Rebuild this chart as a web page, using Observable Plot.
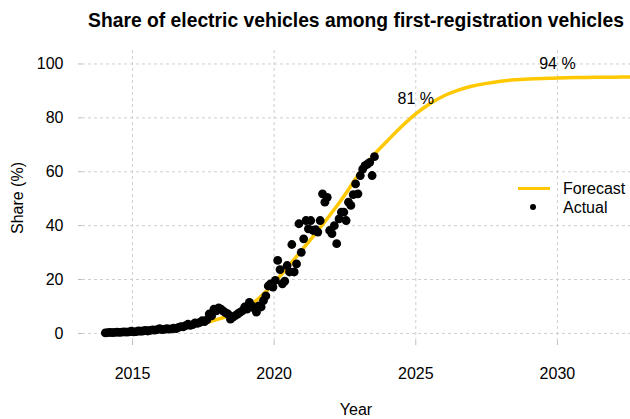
<!DOCTYPE html>
<html>
<head>
<meta charset="utf-8">
<script src="https://cdn.jsdelivr.net/npm/d3@7"></script>
<script src="https://cdn.jsdelivr.net/npm/@observablehq/plot@0.6"></script>
<style>
  body { margin: 0; background: #fff; font-family: "Liberation Sans", Arial, Helvetica, sans-serif; color: #000; }
  #wrap { position: relative; width: 630px; height: 419px; overflow: hidden; }
  #wrap svg { position: absolute; left: 0; top: 0; }
  .t { position: absolute; white-space: nowrap; }
  #title { left: 82px; width: 548px; top: 10px; text-align: center; font-weight: bold; font-size: 19.3px; line-height: 22px; }
  #xlab { left: 82px; width: 548px; top: 402px; text-align: center; font-size: 16px; line-height: 16px; }
  #ylab { left: 18px; top: 198px; font-size: 16px; line-height: 16px; transform: translate(-50%, -50%) rotate(-90deg); }
  .legtext { font-size: 16px; line-height: 18px; left: 563px; }
  #legline { position: absolute; left: 518px; top: 186.5px; width: 32px; height: 3.5px; background: #FFC800; }
  #legdot { position: absolute; left: 530.3px; top: 204.3px; width: 6px; height: 6px; border-radius: 50%; background: #000; }
</style>
</head>
<body>
<div id="wrap">
  <div class="t" id="title">Share of electric vehicles among first-registration vehicles</div>
  <div class="t" id="xlab">Year</div>
  <div class="t" id="ylab">Share (%)</div>
  <div id="legline"></div>
  <div class="t legtext" style="top:179.7px">Forecast</div>
  <div id="legdot"></div>
  <div class="t legtext" style="top:198.5px">Actual</div>
</div>
<script>
// ---- Data ----
// Actual monthly share (%), January..December, by year
const actual2014 = [0.2, 0.3, 0.4, 0.3, 0.4, 0.5, 0.4, 0.5, 0.6, 0.5, 0.6, 0.8];
const actual2015 = [0.6, 0.7, 0.9, 0.8, 0.9, 1.1, 0.9, 1.1, 1.3, 1.2, 1.4, 1.8];
const actual2016 = [1.4, 1.5, 1.8, 1.6, 1.7, 2.0, 1.8, 2.2, 2.5, 2.4, 2.9, 3.4];
const actual2017 = [3.0, 3.3, 3.9, 3.7, 4.1, 4.7, 4.4, 5.0, 7.2, 6.5, 9.0, 8.4];
const actual2018 = [9.5, 9.0, 8.3, 7.6, 7.2, 5.3, 6.0, 6.6, 7.2, 7.8, 8.4, 9.8];
const actual2019 = [9.0, 11.5, 10.3, 9.4, 7.9, 10.2, 9.8, 12.2, 13.9, 17.6, 18.4, 17.2];
const actual2020 = [19.7, 27.1, 23.7, 18.4, 19.4, 25.2, 22.8, 33.0, 22.8, 25.8, 40.7, 30.1];
const actual2021 = [35.1, 41.9, 38.8, 41.9, 38.2, 38.5, 37.6, 41.9, 51.8, 48.7, 50.5, 38.2];
const actual2022 = [37.0, 40.0, 33.3, 42.5, 45.0, 45.0, 41.9, 48.7, 47.5, 51.5, 55.5, 51.8];
const actual2023 = [58.6, 61.0, 62.3, 62.8, 63.5, 58.6, 65.6];
const actualYears = [2014, 2015, 2016, 2017, 2018, 2019, 2020, 2021, 2022, 2023];
const actualByYear = [actual2014, actual2015, actual2016, actual2017, actual2018,
                      actual2019, actual2020, actual2021, actual2022, actual2023];

// Forecast curve (year, share %)
const forecastYear  = [2014, 2014.5, 2015, 2015.5, 2016, 2016.5, 2017, 2017.5, 2018, 2018.5,
                       2019, 2019.5, 2020, 2020.5, 2021, 2021.5, 2022, 2022.5, 2023, 2023.5,
                       2024, 2024.5, 2025, 2025.5, 2026, 2026.5, 2027, 2027.5, 2028, 2028.5,
                       2029, 2029.5, 2030, 2031, 2032, 2032.7];
const forecastShare = [0.4, 0.6, 0.8, 1.1, 1.5, 2.0, 2.7, 3.8, 5.2, 7.0,
                       9.4, 13.4, 18.8, 24.9, 31.2, 37.6, 44.3, 51.5, 59.3, 66.0,
                       71.5, 76.8, 81.5, 85.2, 88.2, 90.3, 91.8, 92.8, 93.6, 94.1,
                       94.4, 94.6, 94.8, 95.0, 95.1, 95.2];

// Annotations
const labelYear  = [2025, 2030];
const labelValue = [81, 94];

// Ticks
const xTicks = [2015, 2020, 2025, 2030];
const yTicks = [0, 20, 40, 60, 80, 100];

// ---- Build tables ----
const actual = actualYears.flatMap((yr, k) =>
  actualByYear[k].map((v, m) => ({year: yr + (m + 0.5) / 12, share: v})));
const forecast = forecastYear.map((x, i) => ({year: x, share: forecastShare[i]}));
const labels = labelYear.map((x, i) => ({year: x, share: labelValue[i], text: labelValue[i] + " %"}));

const gridStyle = {stroke: "#cfcfcf", strokeOpacity: 1, strokeWidth: 1, strokeDasharray: "3,3"};

const chart = Plot.plot({
  width: 630,
  height: 419,
  marginTop: 50,
  marginBottom: 78,
  marginLeft: 82,
  marginRight: 0,
  style: {fontFamily: "Liberation Sans, Arial, sans-serif", fontSize: "16px", color: "#000", background: "transparent", overflow: "visible"},
  x: {domain: [2013.235, 2032.58], label: null},
  y: {domain: [-3, 105], label: null},
  marks: [
    Plot.gridX(xTicks, gridStyle),
    Plot.gridY(yTicks, gridStyle),
    Plot.axisX(xTicks, {tickSize: 4, tickPadding: 22, stroke: "#bbbbbb", fill: "#000", fontSize: 16, tickFormat: d => String(d), label: null}),
    Plot.axisY(yTicks, {tickSize: 4, tickPadding: 15, stroke: "#bbbbbb", fill: "#000", fontSize: 16, label: null}),
    Plot.line(forecast, {x: "year", y: "share", stroke: "#FFC800", strokeWidth: 3.5, curve: "catmull-rom"}),
    Plot.dot(actual, {x: "year", y: "share", r: 4.4, fill: "#000", stroke: "none"}),
    Plot.text(labels, {x: "year", y: "share", text: "text", dy: -16, fontSize: 16, fill: "#000"})
  ]
});
document.getElementById("wrap").prepend(chart);
</script>
</body>
</html>
